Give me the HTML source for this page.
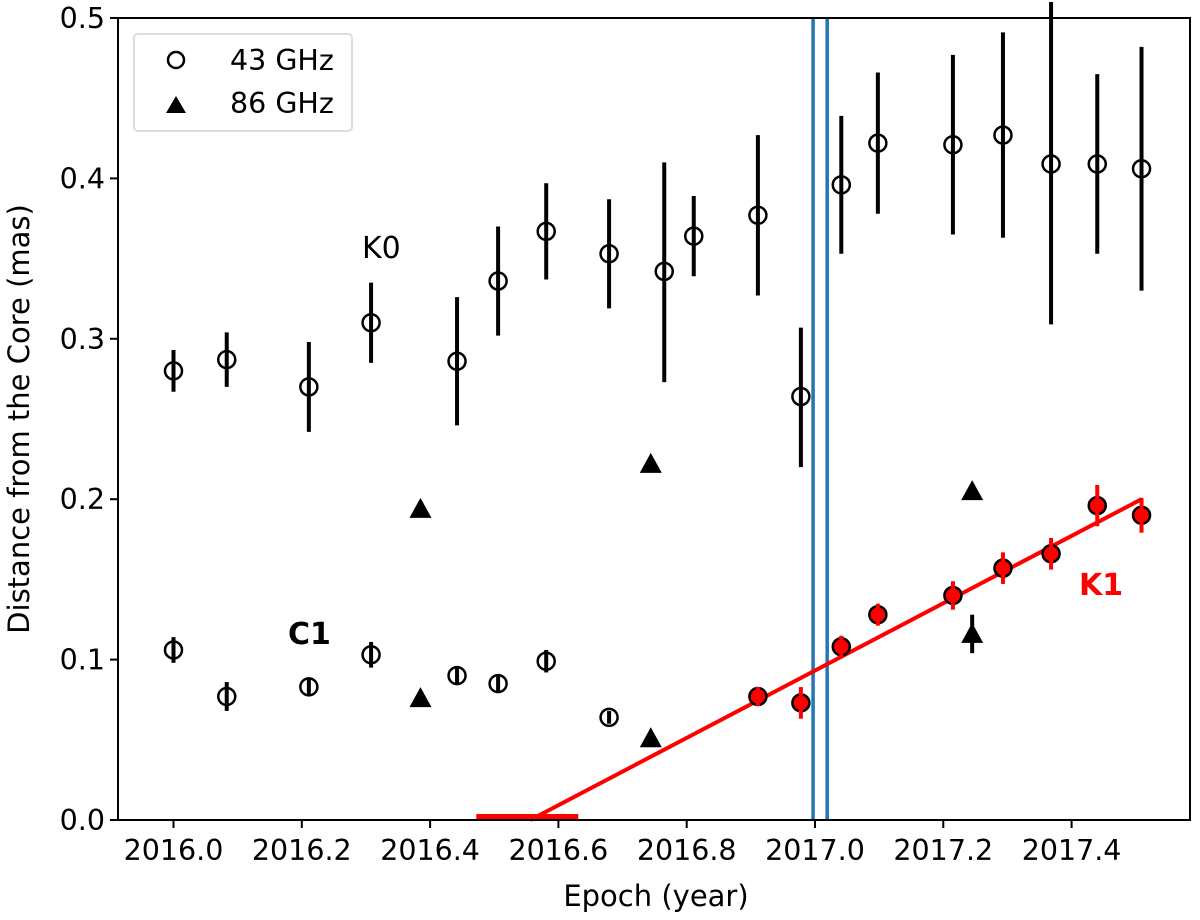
<!DOCTYPE html>
<html><head><meta charset="utf-8"><style>body{margin:0;background:#fff}svg{display:block;font-family:"DejaVu Sans","Liberation Sans",sans-serif}</style></head>
<body>
<svg id="chart" width="1200" height="920" xmlns="http://www.w3.org/2000/svg">
<g id="plot"></g>
</svg>
<script>
const xTicks=[2016.0,2016.2,2016.4,2016.6,2016.8,2017.0,2017.2,2017.4];
const yTicks=[0.0,0.1,0.2,0.3,0.4,0.5];
const k0X=[2016.0,2016.083,2016.211,2016.308,2016.442,2016.506,2016.581,2016.679,2016.765,2016.811,2016.911,2016.978,2017.041,2017.098,2017.215,2017.293,2017.368,2017.440,2017.509];
const k0Y=[0.280,0.287,0.270,0.310,0.286,0.336,0.367,0.353,0.342,0.364,0.377,0.264,0.396,0.422,0.421,0.427,0.409,0.409,0.406];
const k0Lo=[0.267,0.270,0.242,0.285,0.246,0.302,0.337,0.319,0.273,0.339,0.327,0.220,0.353,0.378,0.365,0.363,0.309,0.353,0.330];
const k0Hi=[0.293,0.304,0.298,0.335,0.326,0.370,0.397,0.387,0.410,0.389,0.427,0.307,0.439,0.466,0.477,0.491,0.510,0.465,0.482];
const c1X=[2016.0,2016.083,2016.211,2016.308,2016.442,2016.506,2016.581,2016.679];
const c1Y=[0.106,0.077,0.083,0.103,0.090,0.085,0.099,0.064];
const c1Err=[0.008,0.009,0.005,0.008,0.005,0.005,0.007,0.004];
const triX=[2016.385,2016.385,2016.744,2016.744,2017.245,2017.245];
const triY=[0.194,0.076,0.222,0.051,0.205,0.116];
const triErr=[0,0,0,0,0,0.012];
const k1X=[2016.911,2016.978,2017.041,2017.098,2017.215,2017.293,2017.368,2017.440,2017.509];
const k1Y=[0.077,0.073,0.108,0.128,0.140,0.157,0.166,0.196,0.190];
const k1Err=[0.004,0.008,0.005,0.005,0.007,0.008,0.008,0.011,0.009];
const fitX=[2016.556,2017.509];
const fitY=[0.0,0.2];
const fitBar=[2016.472,2016.631];
const vLines=[2016.997,2017.019];

const L=118,R=1190,T=18,B=820;
const sx=v=>173.5+(v-2016)*641.5;
const sy=v=>B-v*1604;
const NS='http://www.w3.org/2000/svg';
const g=document.getElementById('plot');
function mk(tag,a,parent){const e=document.createElementNS(NS,tag);for(const k in a)e.setAttribute(k,a[k]);(parent||g).appendChild(e);return e;}

vLines.forEach((v,i)=>{const e=mk('line',{x1:sx(v),x2:sx(v),y1:T,y2:B,stroke:'#1f77b4','stroke-width':3.5});

});

let e=mk('line',{x1:sx(fitX[0]),y1:sy(fitY[0]),x2:sx(fitX[1]),y2:sy(fitY[1]),stroke:'#ff0000','stroke-width':4});


e=mk('line',{x1:sx(fitBar[0]),y1:B-3,x2:sx(fitBar[1]),y2:B-3,stroke:'#ff0000','stroke-width':6});



k0X.forEach((x,i)=>{const p=mk('g',{});


mk('line',{x1:sx(x),x2:sx(x),y1:sy(k0Lo[i]),y2:sy(k0Hi[i]),stroke:'#000','stroke-width':4},p);
mk('circle',{cx:sx(x),cy:sy(k0Y[i]),r:8.5,fill:'none',stroke:'#000','stroke-width':2.5},p);});
c1X.forEach((x,i)=>{const p=mk('g',{});


mk('line',{x1:sx(x),x2:sx(x),y1:sy(c1Y[i]-c1Err[i]),y2:sy(c1Y[i]+c1Err[i]),stroke:'#000','stroke-width':4},p);
mk('circle',{cx:sx(x),cy:sy(c1Y[i]),r:8.5,fill:'none',stroke:'#000','stroke-width':2.5},p);});
triX.forEach((x,i)=>{const p=mk('g',{});


const cx=sx(x),cy=sy(triY[i]);
if(triErr[i])mk('line',{x1:cx,x2:cx,y1:sy(triY[i]-triErr[i]),y2:sy(triY[i]+triErr[i]),stroke:'#000','stroke-width':4},p);
mk('polygon',{points:`${cx},${cy-11} ${cx-11},${cy+9} ${cx+11},${cy+9}`,fill:'#000'},p);});
k1X.forEach((x,i)=>{const p=mk('g',{});


mk('circle',{cx:sx(x),cy:sy(k1Y[i]),r:8.5,fill:'#ff0000',stroke:'#000','stroke-width':2.5},p);
mk('line',{x1:sx(x),x2:sx(x),y1:sy(k1Y[i]-k1Err[i])+3,y2:sy(k1Y[i]+k1Err[i])-3,stroke:'#ff0000','stroke-width':4},p);});

e=mk('rect',{x:L,y:T,width:R-L,height:B-T,fill:'none',stroke:'#000','stroke-width':2});


xTicks.forEach(v=>{mk('line',{x1:sx(v),x2:sx(v),y1:B,y2:B+8,stroke:'#000','stroke-width':2});
const t=mk('text',{x:sx(v),y:B+40,'font-size':28.5,'text-anchor':'middle'});t.textContent=v.toFixed(1);

});
yTicks.forEach(v=>{mk('line',{x1:L-8,x2:L,y1:sy(v),y2:sy(v),stroke:'#000','stroke-width':2});
const t=mk('text',{x:L-13,y:sy(v)+10,'font-size':28.5,'text-anchor':'end'});t.textContent=v.toFixed(1);

});
function txt(s,a,name){const t=mk('text',a);t.textContent=s;

return t;}
txt('Epoch (year)',{x:656,y:906,'font-size':29,'text-anchor':'middle'},'x-axis-title');
txt('Distance from the Core (mas)',{x:0,y:0,'font-size':29,'text-anchor':'middle',transform:'translate(29,419) rotate(-90)'},'y-axis-title');
txt('K0',{x:362,y:258,'font-size':30},'k0-label');
txt('C1',{x:288,y:644,'font-size':30,'font-weight':'bold'},'c1-label');
txt('K1',{x:1079,y:595,'font-size':30,'font-weight':'bold',fill:'#ff0000'},'k1-label');
const lg=mk('g',{});


mk('rect',{x:134,y:34,width:218,height:97,rx:4,fill:'#fff',stroke:'#ddd','stroke-width':2},lg);
mk('circle',{cx:176,cy:60,r:8,fill:'none',stroke:'#000','stroke-width':2.5},lg);
mk('polygon',{points:'176,96 166,113 186,113',fill:'#000'},lg);
const a=mk('text',{x:230,y:70,'font-size':28.5},lg);a.textContent='43 GHz';


const b=mk('text',{x:230,y:113,'font-size':28.5},lg);b.textContent='86 GHz';


</script>
</body></html>
